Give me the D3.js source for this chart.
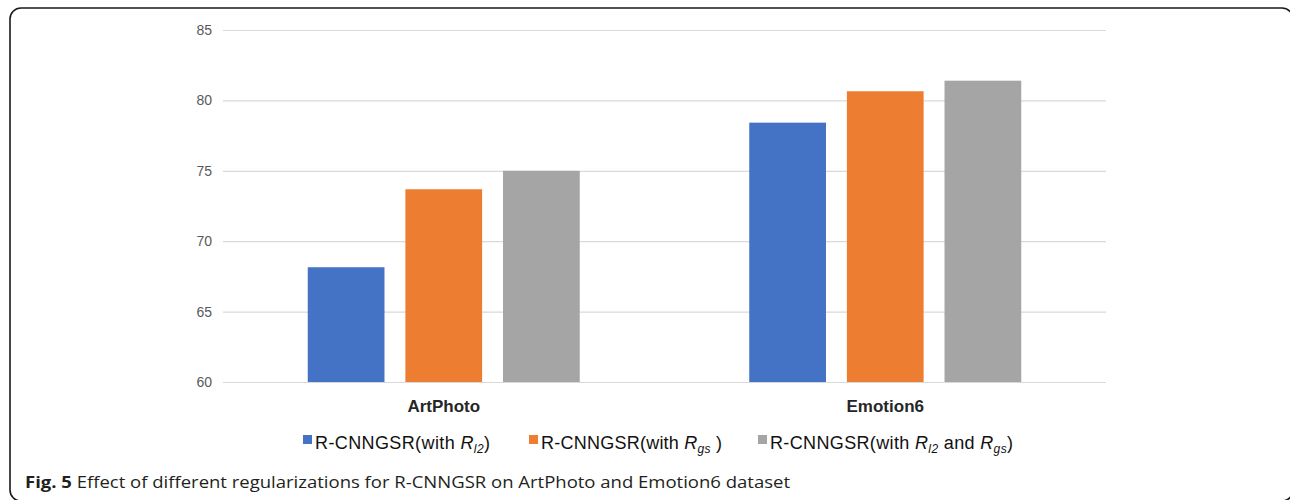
<!DOCTYPE html>
<html>
<head>
<meta charset="utf-8">
<script src="https://cdn.jsdelivr.net/npm/d3@7"></script>
<style>
  html, body { margin: 0; padding: 0; background: #fff; }
  svg { display: block; }
</style>
</head>
<body>
<svg id="chart" width="1290" height="500"></svg>
<script>
// ---- data ----
const categories = ["ArtPhoto", "Emotion6"];
const seriesNames = ["l2", "gs", "both"];
const valuesL2   = [68.15, 78.42];
const valuesGs   = [73.69, 80.65];
const valuesBoth = [75.00, 81.40];
const yTicks = [60, 65, 70, 75, 80, 85];
const colors = ["#4472C4", "#ED7D31", "#A5A5A5"];
const captionBold = "Fig. 5";
const captionText = " Effect of different regularizations for R-CNNGSR on ArtPhoto and Emotion6 dataset";

const seriesValues = [valuesL2, valuesGs, valuesBoth];

const svg = d3.select("#chart");

// frame
svg.append("rect")
  .attr("x", 10).attr("y", 8)
  .attr("width", 1283).attr("height", 493)
  .attr("rx", 11).attr("ry", 11)
  .attr("fill", "none").attr("stroke", "#1a1a1a").attr("stroke-width", 1.6);

const plot = { left: 223, right: 1106, top: 30, bottom: 382 };

const y = d3.scaleLinear().domain([60, 85]).range([plot.bottom, plot.top]);
const x0 = d3.scaleBand().domain(categories).range([plot.left, plot.right]).padding(0);
const groupW = 272;
const x1 = d3.scaleBand().domain(seriesNames)
  .range([(x0.bandwidth() - groupW) / 2, (x0.bandwidth() + groupW) / 2])
  .paddingInner(0.214).paddingOuter(0);

// gridlines via axis
const yAxis = d3.axisLeft(y).tickValues(yTicks).tickSize(-(plot.right - plot.left)).tickPadding(11);
const gy = svg.append("g").attr("transform", `translate(${plot.left},0)`).call(yAxis);
gy.select(".domain").remove();
gy.selectAll(".tick line").attr("stroke", "#d9d9d9").attr("stroke-width", 1.2);
gy.selectAll(".tick text")
  .attr("fill", "#595959")
  .style("font-family", "'Liberation Sans', Arial, sans-serif")
  .style("font-size", "14px");

// bars
const groups = svg.append("g").selectAll("g")
  .data(categories)
  .join("g")
  .attr("transform", d => `translate(${x0(d)},0)`);

groups.selectAll("rect")
  .data((d, i) => seriesNames.map((s, j) => ({ s, j, v: seriesValues[j][i] })))
  .join("rect")
  .attr("x", d => x1(d.s))
  .attr("width", x1.bandwidth())
  .attr("y", d => y(d.v))
  .attr("height", d => y(60) - y(d.v))
  .attr("fill", d => colors[d.j]);

// category labels
const xAxis = d3.axisBottom(x0).tickSize(0).tickPadding(18);
const gx = svg.append("g").attr("transform", `translate(0,${plot.bottom})`).call(xAxis);
gx.select(".domain").remove();
gx.selectAll(".tick text")
  .attr("fill", "#262626")
  .style("font-family", "'Liberation Sans', Arial, sans-serif")
  .style("font-size", "17px")
  .style("font-weight", "bold");

// legend
const legendFont = "'Liberation Sans', Arial, sans-serif";
const legendY = 449;
const legendX = [303, 529, 758];
const legendWidths = [187, 193, 255];
const legend = svg.append("g");
const legendItems = [
  [{t: "R-CNNGSR(with "}, {t: "R", i: true}, {t: "l2", i: true, sub: true}, {t: ")"}],
  [{t: "R-CNNGSR(with "}, {t: "R", i: true}, {t: "gs", i: true, sub: true}, {t: " )"}],
  [{t: "R-CNNGSR(with "}, {t: "R", i: true}, {t: "l2", i: true, sub: true}, {t: " and "}, {t: "R", i: true}, {t: "gs", i: true, sub: true}, {t: ")"}]
];
legendItems.forEach((parts, k) => {
  const g = legend.append("g").attr("transform", `translate(${legendX[k]},0)`);
  g.append("rect").attr("x", 0).attr("y", legendY - 14).attr("width", 9).attr("height", 9).attr("fill", colors[k]);
  const t = g.append("text").attr("x", 12).attr("y", legendY)
    .style("font-family", legendFont).style("font-size", "18px").attr("fill", "#111");
  parts.forEach((p, idx) => {
    const ts = t.append("tspan").text(p.t);
    if (p.i) ts.style("font-style", "italic");
    if (p.sub) ts.style("font-size", "12px").attr("dy", 4);
    const prev = parts[idx - 1];
    if (!p.sub && prev && prev.sub) ts.attr("dy", -4);
  });
  t.attr("textLength", legendWidths[k] - 12).attr("lengthAdjust", "spacing");
});

// caption
const cap = svg.append("text").attr("x", 25).attr("y", 488)
  .style("font-family", "'Open Sans', sans-serif").style("font-size", "16px").attr("fill", "#231f20");
cap.append("tspan").text(captionBold).style("font-weight", "bold");
cap.append("tspan").text(captionText);
cap.attr("textLength", 765).attr("lengthAdjust", "spacingAndGlyphs");
</script>
</body>
</html>
